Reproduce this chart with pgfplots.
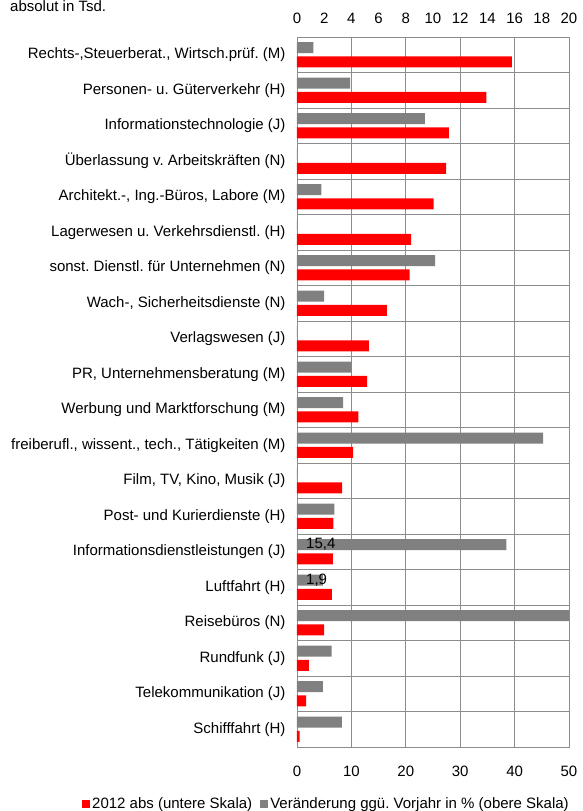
\documentclass[border=0pt]{standalone}
\usepackage{pgfplots}
\pgfplotsset{compat=1.18}
\usepackage{fontspec}
\setmainfont{Liberation Sans}
\frenchspacing
\definecolor{barred}{RGB}{255,0,0}
\definecolor{bargrey}{RGB}{128,128,128}
\definecolor{gridc}{RGB}{140,140,140}
\newcommand{\fs}{\fontsize{15}{17}\selectfont}
\begin{document}
\begin{tikzpicture}
\begin{axis}[
  scale only axis, width=272pt, height=710pt,
  at={(0,0)}, anchor=south west,
  xmin=0, xmax=50, ymin=-0.5, ymax=19.5, y dir=reverse,
  xtick={0,10,...,50},
  ytick={0,...,19},
  minor ytick={0.5,1.5,...,18.5},
  yticklabels={
    {Rechts-,Steuerberat., Wirtsch.prüf. (M)},
    {Personen- u. Güterverkehr (H)},
    {Informationstechnologie (J)},
    {Überlassung v. Arbeitskräften (N)},
    {Architekt.-, Ing.-Büros, Labore (M)},
    {Lagerwesen u. Verkehrsdienstl. (H)},
    {sonst. Dienstl. für Unternehmen (N)},
    {Wach-, Sicherheitsdienste (N)},
    {Verlagswesen (J)},
    {PR, Unternehmensberatung (M)},
    {Werbung und Marktforschung (M)},
    {freiberufl., wissent., tech., Tätigkeiten (M)},
    {Film, TV, Kino, Musik (J)},
    {Post- und Kurierdienste (H)},
    {Informationsdienstleistungen (J)},
    {Luftfahrt (H)},
    {Reisebüros (N)},
    {Rundfunk (J)},
    {Telekommunikation (J)},
    {Schifffahrt (H)}},
  major tick length=0pt, minor tick length=0pt,
  xmajorgrids, yminorgrids,
  grid style={gridc, line width=0.8pt},
  minor grid style={gridc, line width=0.8pt},
  axis line style={gridc, line width=0.8pt},
  tick label style={font=\fs, black},
  /pgf/number format/assume math mode=true,
  yticklabel style={xshift=-8pt},
  xticklabel style={yshift=-15pt},
  axis on top=false,
]
\addplot[xbar, bar width=0.31, bar shift=0.2, fill=barred, draw=none] coordinates {
 (39.5,0) (34.8,1) (27.9,2) (27.4,3) (25.1,4) (21.0,5) (20.7,6) (16.5,7) (13.2,8) (12.9,9)
 (11.3,10) (10.3,11) (8.3,12) (6.7,13) (6.6,14) (6.4,15) (5.0,16) (2.2,17) (1.7,18) (0.5,19)};
\end{axis}
\begin{axis}[
  scale only axis, width=272pt, height=710pt,
  at={(0,0)}, anchor=south west,
  xmin=0, xmax=20, ymin=-0.5, ymax=19.5, y dir=reverse,
  axis x line*=top, axis y line=none,
  xtick={0,2,...,20},
  major tick length=0pt,
  axis line style={gridc, line width=0.8pt},
  tick label style={font=\fs, black},
  /pgf/number format/assume math mode=true,
  xticklabel style={yshift=10pt},
  legend style={at={([xshift=2pt,yshift=-57pt]axis description cs:1,0)}, anchor=east,
    draw=none, fill=none, inner sep=0pt, font=\fs, legend columns=2,
    /tikz/every even column/.append style={column sep=6pt}},
  legend image code/.code={\fill[#1] (0pt,-4pt) rectangle (8pt,4pt);},
]
\addlegendimage{fill=barred, draw=none}
\addplot[xbar, bar width=0.31, bar shift=-0.2, fill=bargrey, draw=none] coordinates {
 (1.2,0) (3.9,1) (9.4,2) (0,3) (1.8,4) (0,5) (10.15,6) (2.0,7) (0,8) (4.0,9)
 (3.4,10) (18.1,11) (0,12) (2.75,13) (15.4,14) (1.9,15) (25,16) (2.55,17) (1.9,18) (3.3,19)};
\legend{2012 abs (untere Skala), Veränderung ggü. Vorjahr in \% (obere Skala)}
\node[anchor=west, font=\fs, inner sep=0pt] at ([xshift=9pt]axis cs:0,13.8) {15,4};
\node[anchor=west, font=\fs, inner sep=0pt] at ([xshift=9pt]axis cs:0,14.8) {1,9};
\end{axis}
\node[anchor=base west, font=\fs, inner sep=0pt] at (-287pt,735pt) {absolut in Tsd.};
\pgfresetboundingbox
\useasboundingbox (-297pt,-64pt) rectangle (285pt,747pt);
\end{tikzpicture}
\end{document}
